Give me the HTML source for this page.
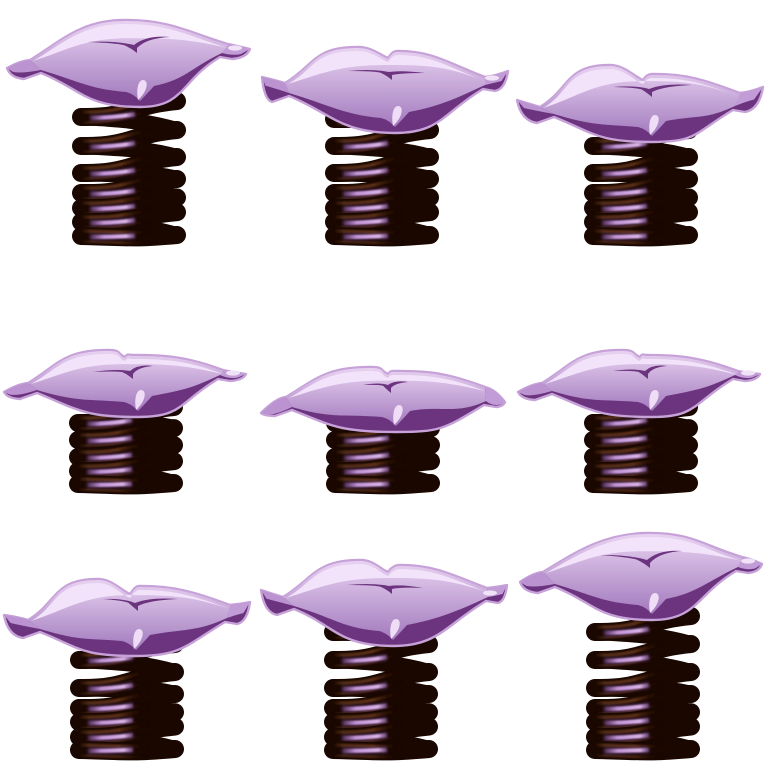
<!DOCTYPE html>
<html>
<head>
<meta charset="utf-8">
<style>
html,body{margin:0;padding:0;background:#fff;width:774px;height:774px;overflow:hidden}
svg{display:block}
</style>
</head>
<body>
<svg id="scene" xmlns="http://www.w3.org/2000/svg" width="774" height="774" viewBox="0 0 774 774">
<defs>
<linearGradient id="bodyGrad" x1="0" y1="0" x2="0" y2="1"><stop offset="0" stop-color="#e8d2f1"/><stop offset="1" stop-color="#a27abd"/></linearGradient>
<linearGradient id="coilGlow" x1="0" y1="0" x2="1" y2="0"><stop offset="0" stop-color="#5e3318" stop-opacity="0"/><stop offset=".1" stop-color="#5e3318" stop-opacity=".8"/><stop offset=".42" stop-color="#5a2e12"/><stop offset=".58" stop-color="#2c1106" stop-opacity=".6"/><stop offset=".74" stop-color="#190700" stop-opacity="0"/></linearGradient>
<linearGradient id="coilShine" x1="0" y1="0" x2="1" y2="0"><stop offset="0" stop-color="#b58ac8" stop-opacity="0"/><stop offset=".3" stop-color="#c295d6"/><stop offset=".8" stop-color="#d9b4e6"/><stop offset="1" stop-color="#c79ada" stop-opacity=".2"/></linearGradient>
<filter id="blur2" filterUnits="userSpaceOnUse" x="0" y="0" width="774" height="774"><feGaussianBlur stdDeviation="1.5"/></filter>
<filter id="blur1" filterUnits="userSpaceOnUse" x="0" y="0" width="774" height="774"><feGaussianBlur stdDeviation="0.9"/></filter>
</defs>
</svg>
<script>
// spring geometry per cell: left edge, and centre y of each left lobe from top to bottom
var springLeft = [72, 325, 584, 69, 326, 584, 70, 324, 586];
var springRows = [
  [117,146,173,193,208,222,236],
  [119,146,173,193,208,222,236],
  [146,173,193,208,222,236],
  [423,440,457,471,484],
  [423,440,457,471,484],
  [423,440,457,471,484],
  [660,688,708,722,737,750],
  [632,660,688,708,722,737,750],
  [632,660,688,708,722,737,750]
];
var springWidth = 114;
// pillow outline per cell
var tipLeft   = [[7,68],[262,77],[517,100],[4,392],[261,413],[518,392],[4,615],[261,590],[520,582]];
var neckLeft  = [[30,60],[285,83],[540,107],[28,383],[286,397],[542,383],[28,620],[283,597],[543,572]];
var earLeft   = [[24,79],[272,102],[537,123],[20,399],[275,416],[535,400],[23,638],[277,615],[538,593]];
var tipRight  = [[250,49],[508,71],[763,87],[246,374],[505,402],[760,374],[250,602],[507,585],[762,564]];
var neckRight = [[228,44],[485,77],[740,93],[223,370],[485,387],[738,371],[230,605],[487,588],[742,557]];
var earRight  = [[232,59],[495,91],[745,112],[230,381],[496,407],[745,381],[237,624],[498,603],[748,573]];
var earGlossAt = [[235,48],[492,78],null,[233,373],null,[748,373],null,[490,593],[748,561]];
var crown     = [[125,20],[358,47],[610,65],[108,350],[371,367],[622,350],[98,579],[360,560],[648,533]];
var dips      = [null,[388,58],[643,80],[125,357],[388,374],[640,357],[130,594],[388,572],null];
var shoulders = [null,[398,51],[653,74],[133,355],[398,371],[647,355],[140,586],[400,565],null];
var lowest    = [[140,107],[395,133],[652,142],[138,417],[396,432],[652,417],[136,656],[393,646],[652,620]];
// crease end points per cell
var creaseLeft  = [[88,42],[348,71],[613,87],[93,372],[363,385],[613,371],[103,599],[347,585],[600,555]];
var creaseTip   = [[137,53],[392,80],[652,97],[133,379],[391,393],[648,379],[138,611],[392,594],[650,568]];
var creaseRight = [[170,37],[425,73],[692,85],[153,366],[408,382],[667,366],[178,599],[423,588],[683,551]];

var NS = 'http://www.w3.org/2000/svg';
var svg = document.getElementById('scene');

function mk(tag, parent, attrs) {
  var e = document.createElementNS(NS, tag);
  for (var k in attrs) e.setAttribute(k, attrs[k]);
  parent.appendChild(e);
  return e;
}

function drawSpring(parent, xl, rows) {
  var g = mk('g', parent, {});
  
  
  var L = xl + 9, R = xl + springWidth - 9;
  var rightY = rows.map(function (y, i) {
    var gap = i > 0 ? y - rows[i - 1] : 28;
    if (i === rows.length - 1) return y - 1;
    return gap >= 25 ? y - 16 : y - gap * 0.7;
  });
  // all back strands first
  rows.forEach(function (y, i) {
    if (i === 0) return;
    var prev = rows[i - 1], ry = rightY[i];
    mk('path', g, {d: 'M' + R + ' ' + ry + ' C' + (R - 25) + ' ' + (ry - 7) + ' ' + (L + 55) + ' ' + (prev + 3) + ' ' + L + ' ' + prev, fill: 'none', stroke: '#190700', 'stroke-width': 16, 'stroke-linecap': 'round'});
  });
  // front strands, top to bottom
  rows.forEach(function (y, i) {
    var ry = rightY[i];
    var front = 'M' + L + ' ' + y + ' C' + (L + 48) + ' ' + (y + 1) + ' ' + (R - 45) + ' ' + (ry + 4) + ' ' + R + ' ' + ry;
    mk('path', g, {d: front, fill: 'none', stroke: '#190700', 'stroke-width': 18, 'stroke-linecap': 'round'});
    mk('path', g, {d: front, transform: 'translate(0,-5)', fill: 'none', stroke: 'url(#coilGlow)', 'stroke-width': 3.5, filter: 'url(#blur1)'});
    mk('path', g, {d: front, transform: 'translate(0,5.5)', fill: 'none', stroke: 'url(#coilGlow)', 'stroke-width': 2.5, filter: 'url(#blur1)', opacity: 0.75});
    var sx = xl + 18, ex = xl + 63, dy = (ry - y) * 0.18;
    var sh = 'M' + sx + ' ' + (y + 1) + ' Q' + ((sx + ex) / 2) + ' ' + (y + 1) + ' ' + ex + ' ' + (y + dy + 0.01);
    mk('path', g, {d: sh, fill: 'none', stroke: '#6b3f80', 'stroke-width': 6, filter: 'url(#blur2)', opacity: 0.7});
    mk('path', g, {d: sh, fill: 'none', stroke: 'url(#coilShine)', 'stroke-width': 4, filter: 'url(#blur1)'});
  });
}

function drawPillow(parent, i) {
  var g = mk('g', parent, {});
  
  
  var tl = tipLeft[i], nl = neckLeft[i], el = earLeft[i];
  var tr = tipRight[i], nr = neckRight[i], er = earRight[i];
  var hx = crown[i][0], top = crown[i][1], d = dips[i], sh = shoulders[i];
  var bx = lowest[i][0], by = lowest[i][1];
  var Ax = nl[0], Ay = nl[1], Bx = nr[0], By = nr[1];

  var topPath = function (o) {
    var s = 'C' + (Ax + 30) + ' ' + (Ay - 18 + o) + ' ' + (hx - 45) + ' ' + (top + o) + ' ' + hx + ' ' + (top + o) + ' ';
    if (d) {
      s += 'C' + (hx + 14) + ' ' + (top + o) + ' ' + (d[0] - 8) + ' ' + (d[1] - 3 + o) + ' ' + d[0] + ' ' + (d[1] + o) + ' ';
      s += 'C' + (d[0] + 3) + ' ' + (d[1] - 4 + o) + ' ' + (sh[0] - 5) + ' ' + (sh[1] + o) + ' ' + sh[0] + ' ' + (sh[1] + o) + ' ';
      s += 'C' + (sh[0] + 35) + ' ' + (sh[1] + o) + ' ' + (Bx - 35) + ' ' + (By - 13 + o) + ' ' + Bx + ' ' + (By + o);
    } else {
      s += 'C' + (hx + 45) + ' ' + (top + o) + ' ' + (Bx - 40) + ' ' + (By - 12 + o) + ' ' + Bx + ' ' + (By + o);
    }
    return s;
  };

  var SLx = el[0] + 17, SLy = el[1] - 6;
  var SRx = er[0] - 12, SRy = er[1] - 2;
  var LSx = SLx, LSy = SLy - 3;
  var RSx = SRx + 2, RSy = SRy - 4;
  var earCtlL = ((nl[0] - 10) + ' ' + (nl[1] + (tl[1] < nl[1] ? -3 : 1)));
  var earCtlR = ((nr[0] + 10) + ' ' + (nr[1] + (tr[1] < nr[1] ? -1 : 2)));
  var botCtlL = (tl[0] + (el[0] - tl[0]) * 0.2) + ' ' + (el[1] - (el[1] - tl[1]) * 0.1);
  var botCtlR = (tr[0] + (er[0] - tr[0]) * 0.2) + ' ' + (er[1] - (er[1] - tr[1]) * 0.1);

  var silD = 'M' + tl[0] + ' ' + tl[1] + ' Q' + earCtlL + ' ' + Ax + ' ' + Ay + ' ' + topPath(0)
    + ' Q' + earCtlR + ' ' + tr[0] + ' ' + tr[1]
    + ' Q' + botCtlR + ' ' + er[0] + ' ' + er[1]
    + ' L' + SRx + ' ' + SRy
    + ' C' + (SRx - 40) + ' ' + (SRy + 24) + ' ' + (bx + 45) + ' ' + by + ' ' + bx + ' ' + by
    + ' C' + (bx - 55) + ' ' + by + ' ' + (SLx + 40) + ' ' + (SLy + 16) + ' ' + SLx + ' ' + SLy
    + ' L' + el[0] + ' ' + el[1]
    + ' Q' + botCtlL + ' ' + tl[0] + ' ' + tl[1] + ' Z';
  var sil = mk('path', g, {d: silD, fill: '#6c347f', stroke: '#c7a2d9', 'stroke-width': 2.4, 'stroke-linejoin': 'round'});
  
  

  // ears
  var dsL = [tl[0] + (el[0] - tl[0]) * 0.35, tl[1] + (el[1] - tl[1]) * 0.35];
  var dsR = [tr[0] + (er[0] - tr[0]) * 0.5, tr[1] + (er[1] - tr[1]) * 0.5];
  mk('path', g, {d: 'M' + tl[0] + ' ' + tl[1] + ' Q' + earCtlL + ' ' + Ax + ' ' + Ay + ' L' + LSx + ' ' + LSy + ' Q' + (dsL[0] + 8) + ' ' + (dsL[1] + 2) + ' ' + dsL[0] + ' ' + dsL[1] + ' Z', fill: '#ba93d0'});
  mk('path', g, {d: 'M' + tr[0] + ' ' + tr[1] + ' Q' + earCtlR + ' ' + Bx + ' ' + By + ' L' + RSx + ' ' + RSy + ' Q' + (dsR[0] - 8) + ' ' + (dsR[1] + 2) + ' ' + dsR[0] + ' ' + dsR[1] + ' Z', fill: '#c19cd6'});

  // main light body
  var lower = 'C' + (RSx - 30) + ' ' + (RSy + 14) + ' ' + (bx + 45) + ' ' + (by - 27) + ' ' + (bx + 14) + ' ' + (by - 21) + ' '
            + 'Q' + (bx + 6) + ' ' + (by - 12) + ' ' + bx + ' ' + (by - 6) + ' '
            + 'Q' + (bx - 6) + ' ' + (by - 13) + ' ' + (bx - 14) + ' ' + (by - 15) + ' '
            + 'C' + (bx - 50) + ' ' + (by - 18) + ' ' + (LSx + 40) + ' ' + (LSy + 12) + ' ' + LSx + ' ' + LSy + ' Z';
  var body = mk('path', g, {d: 'M' + Ax + ' ' + Ay + ' ' + topPath(1) + ' L' + RSx + ' ' + RSy + ' ' + lower, fill: 'url(#bodyGrad)'});
  
  

  // ear gloss
  if (earGlossAt[i]) {
    var eg = mk('ellipse', g, {cx: earGlossAt[i][0], cy: earGlossAt[i][1], rx: 7, ry: 2.6, fill: '#f0e2f7'});
    
    
  }

  // top highlight
  var h = by - top;
  var lowY = top + h * 0.21;
  var midX = (Ax + Bx) / 2;
  var shine = mk('path', g, {d: 'M' + (Ax + 3) + ' ' + (Ay + 1) + ' ' + topPath(4) + ' C' + (Bx - 40) + ' ' + (lowY + 1) + ' ' + (midX + 45) + ' ' + lowY + ' ' + midX + ' ' + lowY + ' C' + (midX - 45) + ' ' + lowY + ' ' + (Ax + 38) + ' ' + (Ay - 10) + ' ' + (Ax + 3) + ' ' + (Ay + 1) + ' Z', fill: '#f2e3fa'});
  
  

  // crease
  var cl = creaseLeft[i], ct = creaseTip[i], cr = creaseRight[i];
  var jx = ct[0] - 3, jy = ct[1] - 8;
  var c1x = (cl[0] + jx) / 2 + 4, c1y = (cl[1] + jy) / 2 - 3;
  var c2x = jx + (cr[0] - jx) * 0.35, c2y = Math.min(cr[1], jy) - 2;
  var px = 0.0625 * cl[0] + 0.375 * c1x + 0.5625 * jx, py = 0.0625 * cl[1] + 0.375 * c1y + 0.5625 * jy + 2;
  var crease = mk('path', g, {d: 'M' + cl[0] + ' ' + cl[1] + ' Q' + c1x + ' ' + c1y + ' ' + jx + ' ' + jy + ' Q' + c2x + ' ' + c2y + ' ' + cr[0] + ' ' + cr[1] + ' Q' + c2x + ' ' + (c2y + 3) + ' ' + (jx + 3) + ' ' + (jy + 3) + ' L' + ct[0] + ' ' + ct[1] + ' Q' + (jx - 3) + ' ' + (jy + 3) + ' ' + px + ' ' + py + ' Q' + c1x + ' ' + (c1y + 2.5) + ' ' + cl[0] + ' ' + cl[1] + ' Z', fill: '#6c347f'});
  
  

  // pinch gloss
  var gy = by - 17;
  var gloss = mk('path', g, {d: 'M' + (bx + 3) + ' ' + (gy - 10) + ' C' + (bx + 9) + ' ' + (gy - 10) + ' ' + (bx + 8) + ' ' + (gy + 1) + ' ' + (bx - 2) + ' ' + (gy + 10) + ' C' + (bx - 4) + ' ' + gy + ' ' + (bx - 2) + ' ' + (gy - 10) + ' ' + (bx + 3) + ' ' + (gy - 10) + ' Z', fill: '#efdcf6'});
  
  
}

springLeft.forEach(function (xl, i) {
  var cell = mk('g', svg, {});
  
  
  drawSpring(cell, xl, springRows[i]);
  drawPillow(cell, i);
});
</script>
</body>
</html>
